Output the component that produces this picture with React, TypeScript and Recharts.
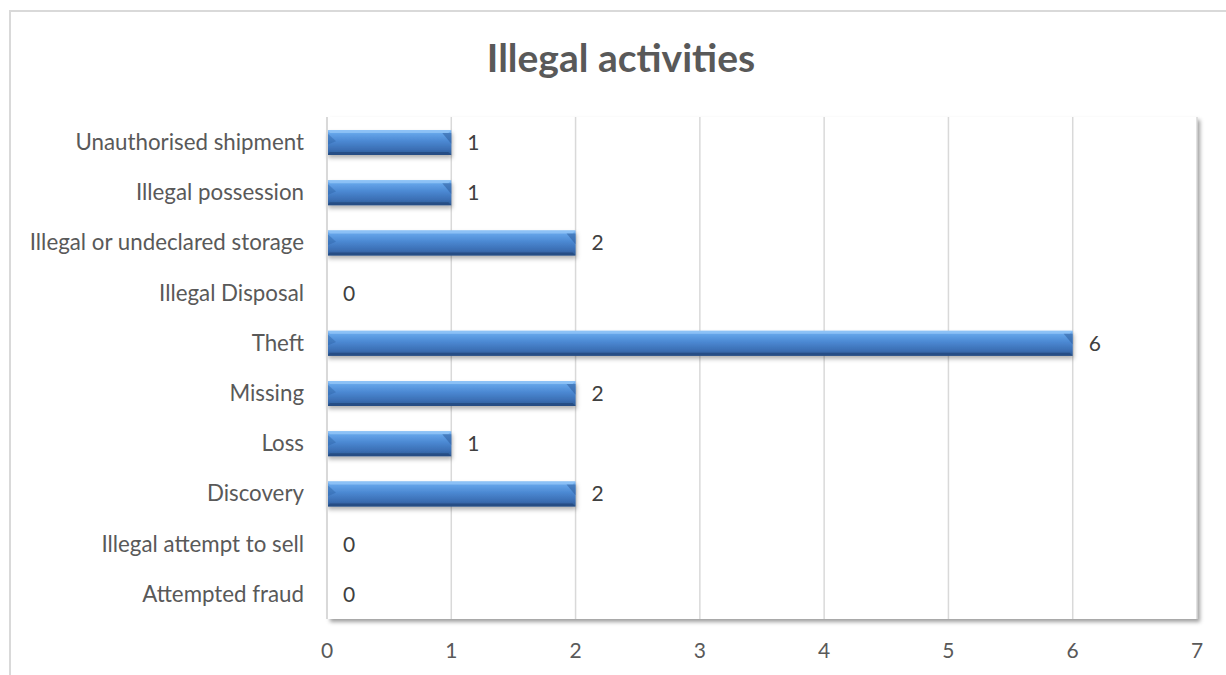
import React from "react";
import { BarChart, Bar, XAxis, YAxis, CartesianGrid, LabelList } from "recharts";

const categories = [
  "Unauthorised shipment",
  "Illegal possession",
  "Illegal or undeclared storage",
  "Illegal Disposal",
  "Theft",
  "Missing",
  "Loss",
  "Discovery",
  "Illegal attempt to sell",
  "Attempted fraud",
];
const values = [1, 1, 2, 0, 6, 2, 1, 2, 0, 0];
const xTicks = [0, 1, 2, 3, 4, 5, 6, 7];
const title = "Illegal activities";

const data = categories.map((c, i) => ({ name: c, value: values[i] }));

const FONT = "Lato, 'Open Sans', sans-serif";

const BevelBar = (props: any) => {
  const { x, y, width, height } = props;
  if (!width || width <= 0) return null;
  const b = 3;
  const s = Math.min(9, width / 3);
  return (
    <g filter="url(#barShadow)">
      <rect x={x} y={y} width={width} height={height} fill="url(#barGrad)" />
      <polygon
        points={`${x},${y} ${x + width},${y} ${x + width - b},${y + b} ${x + b},${y + b}`}
        fill="#8fc3f7"
        opacity={0.85}
      />
      <polygon
        points={`${x},${y + height} ${x + width},${y + height} ${x + width - b},${y + height - b} ${x + b},${y + height - b}`}
        fill="#234a80"
        opacity={0.8}
      />
      <polygon
        points={`${x},${y + b} ${x + s},${y + height * 0.45} ${x},${y + height * 0.6}`}
        fill="#2f63a6"
        opacity={0.45}
      />
      <polygon
        points={`${x + width},${y + b} ${x + width - s},${y + b} ${x + width},${y + height * 0.55}`}
        fill="#2a5797"
        opacity={0.5}
      />
    </g>
  );
};

export default function App() {
  return (
    <div
      style={{
        position: "absolute",
        left: 0,
        top: 0,
        width: 1226,
        height: 675,
        overflow: "hidden",
        background: "#ffffff",
        fontFamily: FONT,
      }}
    >
      <div
        style={{
          position: "absolute",
          left: 9,
          top: 10,
          width: 1400,
          height: 900,
          border: "2px solid #d9d9d9",
          boxSizing: "border-box",
        }}
      />
      <div
        style={{
          position: "absolute",
          left: 327,
          top: 117,
          width: 870,
          height: 502,
          background: "#ffffff",
          boxShadow: "3px 3px 4px rgba(0,0,0,0.38)",
        }}
      />
      <div
        style={{
          position: "absolute",
          left: 0,
          width: 1242,
          top: 33,
          textAlign: "center",
          fontSize: 39,
          fontWeight: 700,
          color: "#595959",
          lineHeight: "48px",
          fontFamily: FONT,
        }}
      >
        {title}
      </div>
      <div style={{ position: "absolute", left: 0, top: 0 }}>
        <BarChart
          width={1226}
          height={675}
          data={data}
          layout="vertical"
          margin={{ top: 117, right: 29, bottom: 26, left: 0 }}
          barSize={25}
        >
          <defs>
            <linearGradient id="barGrad" x1="0" y1="0" x2="0" y2="1">
              <stop offset="0%" stopColor="#86bdf4" />
              <stop offset="15%" stopColor="#63a3e8" />
              <stop offset="45%" stopColor="#4b88d2" />
              <stop offset="80%" stopColor="#3a6db2" />
              <stop offset="100%" stopColor="#2c5890" />
            </linearGradient>
            <filter id="barShadow" x="-5%" y="-30%" width="110%" height="180%">
              <feDropShadow dx="1" dy="3" stdDeviation="2" floodColor="#000" floodOpacity="0.3" />
            </filter>
          </defs>
          <CartesianGrid horizontal={false} stroke="#d9d9d9" strokeWidth={1.5} />
          <XAxis
            type="number"
            domain={[0, 7]}
            ticks={xTicks}
            axisLine={false}
            tickLine={false}
            tickSize={0}
            tickMargin={24}
            height={30}
            interval={0}
            tick={{ fill: "#595959", fontSize: 21, fontFamily: FONT }}
          />
          <YAxis
            type="category"
            dataKey="name"
            width={327}
            axisLine={{ stroke: "#d9d9d9", strokeWidth: 2 }}
            tickLine={false}
            tickSize={0}
            tickMargin={23}
            interval={0}
            tick={{ fill: "#595959", fontSize: 22.3, fontFamily: FONT }}
          />
          <Bar dataKey="value" shape={<BevelBar />} isAnimationActive={false}>
            <LabelList
              dataKey="value"
              position="right"
              offset={16}
              fill="#404040"
              fontSize={21}
              fontFamily={FONT}
            />
          </Bar>
        </BarChart>
      </div>
    </div>
  );
}
